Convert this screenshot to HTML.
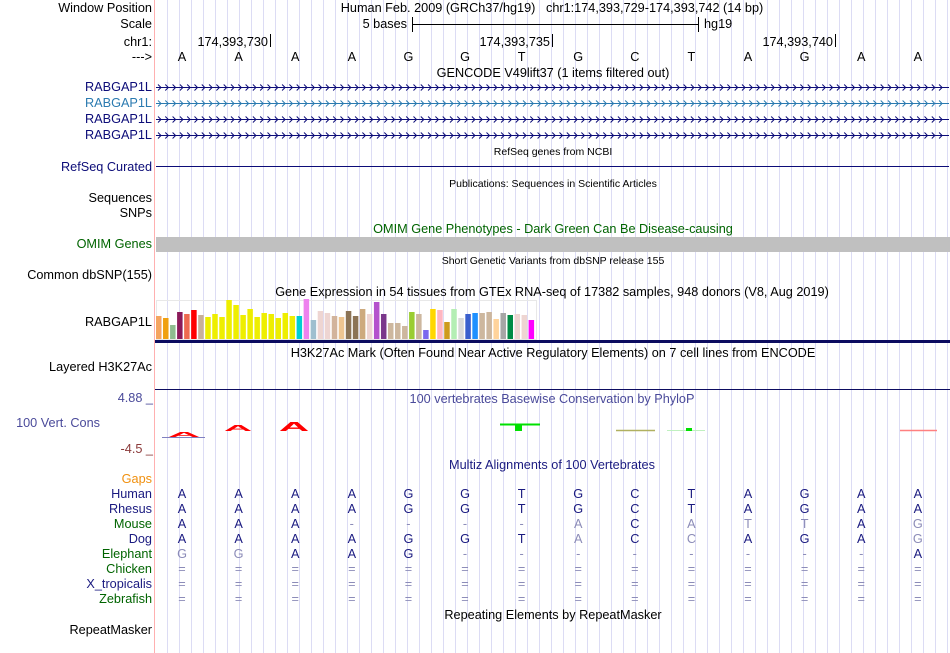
<!DOCTYPE html>
<html><head><meta charset="utf-8"><style>
html,body{margin:0;padding:0;background:#fff;}
svg{display:block;font-family:"Liberation Sans",Arial,sans-serif;}
</style></head><body>
<svg id="s" width="950" height="653" viewBox="0 0 950 653" xmlns="http://www.w3.org/2000/svg">
<g id="grid"></g>
<line x1="154.5" y1="0" x2="154.5" y2="653" stroke="#ffb0b0" stroke-width="1"/>
<g font-size="12.7" fill="#000" text-anchor="end" id="labels">
<text x="152" y="12">Window Position</text>
<text x="152" y="28">Scale</text>
<text x="152" y="46">chr1:</text>
<text x="152" y="61">---&gt;</text>
<text x="152" y="91" fill="#0c0c78">RABGAP1L</text>
<text x="152" y="107" fill="#2a7ab0">RABGAP1L</text>
<text x="152" y="123" fill="#0c0c78">RABGAP1L</text>
<text x="152" y="139" fill="#0c0c78">RABGAP1L</text>
<text x="152" y="171" fill="#0c0c78">RefSeq Curated</text>
<text x="152" y="202">Sequences</text>
<text x="152" y="217">SNPs</text>
<text x="152" y="248" fill="#006400">OMIM Genes</text>
<text x="152" y="279">Common dbSNP(155)</text>
<text x="152" y="326">RABGAP1L</text>
<text x="152" y="371">Layered H3K27Ac</text>
<text x="100" y="427" fill="#4a4a9a">100 Vert. Cons</text>
<text x="153" y="402" fill="#4a4a9a">4.88 _</text>
<text x="153" y="453" fill="#8b3a3a">-4.5 _</text>
<text x="152" y="483" fill="#f0900f">Gaps</text>
<text x="152" y="634">RepeatMasker</text>
</g>
<g font-size="12.7" text-anchor="middle">
<text x="552" y="12" xml:space="preserve" style="white-space:pre">Human Feb. 2009 (GRCh37/hg19)   chr1:174,393,729-174,393,742 (14 bp)</text>
<text x="553" y="77">GENCODE V49lift37 (1 items filtered out)</text>
<text x="553" y="233" fill="#006400">OMIM Gene Phenotypes - Dark Green Can Be Disease-causing</text>
<text x="552" y="296">Gene Expression in 54 tissues from GTEx RNA-seq of 17382 samples, 948 donors (V8, Aug 2019)</text>
<text x="553" y="357">H3K27Ac Mark (Often Found Near Active Regulatory Elements) on 7 cell lines from ENCODE</text>
<text x="552" y="403" fill="#4a4a9a">100 vertebrates Basewise Conservation by PhyloP</text>
<text x="552" y="469" fill="#1a1a80">Multiz Alignments of 100 Vertebrates</text>
<text x="553" y="619">Repeating Elements by RepeatMasker</text>
</g>
<g font-size="10.5" text-anchor="middle">
<text x="553" y="155">RefSeq genes from NCBI</text>
<text x="553" y="187">Publications: Sequences in Scientific Articles</text>
<text x="553" y="264">Short Genetic Variants from dbSNP release 155</text>
</g>
<g font-size="12.7">
<text x="407" y="28" text-anchor="end">5 bases</text>
<line x1="412" y1="24.5" x2="698" y2="24.5" stroke="#000"/>
<line x1="412.5" y1="17" x2="412.5" y2="32" stroke="#000"/>
<line x1="698.5" y1="17" x2="698.5" y2="32" stroke="#000"/>
<text x="704" y="28">hg19</text>
</g>
<g font-size="12.7" text-anchor="end">
<text x="268" y="46">174,393,730</text><line x1="270.5" y1="34" x2="270.5" y2="47" stroke="#000"/>
<text x="550" y="46">174,393,735</text><line x1="552.5" y1="34" x2="552.5" y2="47" stroke="#000"/>
<text x="833" y="46">174,393,740</text><line x1="835.5" y1="34" x2="835.5" y2="47" stroke="#000"/>
</g>
<g id="bases" font-size="12.7" text-anchor="middle"></g>
<g id="genes"></g>
<line x1="156" y1="166.5" x2="949" y2="166.5" stroke="#0c0c78"/>
<rect x="156" y="237" width="794" height="15" fill="#c0c0c0"/>
<rect x="156.5" y="300.5" width="380" height="39" fill="none" stroke="#e8e8e8"/>
<g id="gtex"></g>
<rect x="155" y="340" width="795" height="3" fill="#0c0c60"/>
<line x1="155" y1="389.5" x2="950" y2="389.5" stroke="#0c0c60"/>
<g font-weight="bold" text-anchor="middle">
<text x="0" y="0" fill="#ff0000" font-size="14" transform="translate(184,437) scale(3.2,0.5)">A</text>
<line x1="162" y1="437.5" x2="205" y2="437.5" stroke="#8080c0"/>
<text x="0" y="0" fill="#ff0000" font-size="14" transform="translate(238,431) scale(2.8,0.6)">A</text>
<text x="0" y="0" fill="#ff0000" font-size="14" transform="translate(294,431) scale(3.0,0.9)">A</text>
<line x1="500" y1="424.5" x2="540" y2="424.5" stroke="#00e000" stroke-width="2"/>
<rect x="515" y="424" width="7" height="7" fill="#00e000"/>
<line x1="616" y1="430.5" x2="655" y2="430.5" stroke="#b0b060" stroke-width="1.5"/>
<line x1="667" y1="430.5" x2="705" y2="430.5" stroke="#c0f0c0"/>
<rect x="686" y="428" width="6" height="3" fill="#00e000"/>
<line x1="900" y1="430.5" x2="937" y2="430.5" stroke="#ff8080" stroke-width="1.5"/>
</g>
<g id="multiz" font-size="12.7"></g>
<script>
const gtexValues=[23,21,14,27,25,29,24,22,25,22,39,34,24,30,22,26,25,21,26,23,23,40,19,28,26,23,22,28,23,30,25,37,25,16,16,13,27,25,9,30,29,17,30,21,25,26,26,27,20,26,24,25,24,19];
const gtexColors=["#f4a460","#f0a010","#8fbc8f","#8b1a5a","#ee6a50","#ff0000","#c8b09a","#eeee00","#eeee00","#eeee00","#eeee00","#eeee00","#eeee00","#eeee00","#eeee00","#eeee00","#eeee00","#eeee00","#eeee00","#eeee00","#00ced1","#ee82ee","#9fbfcf","#eed5d2","#eed5d2","#d2b49c","#eec591","#8b7355","#8b7355","#cdaa7d","#eed5d2","#b452cd","#7a378b","#cdb79e","#cdb79e","#cdb79e","#9acd32","#cdb79e","#7b68ee","#ffd700","#ffb6c1","#cd9b1d","#b4eeb4","#d9d9d9","#3a5fcd","#1e90ff","#cdb79e","#cdb79e","#ffd39b","#a6a6a6","#008b45","#eed5d2","#eed5d2","#ff00ff"];
const refBases=["A","A","A","A","G","G","T","G","C","T","A","G","A","A"];
const species=["Human","Rhesus","Mouse","Dog","Elephant","Chicken","X_tropicalis","Zebrafish"];
const speciesColors=["#1a1a80","#1a1a80","#006400","#1a1a80","#006400","#006400","#1a1a80","#006400"];
const alignments=["AAAAGGTGCTAGAA","AAAAGGTGCTAGAA","AAA----ACATTAG","AAAAGGTACCAGAG","GGAAG--------A","==============","==============","=============="];
const NS="http://www.w3.org/2000/svg";
function mk(tag,attrs,parent,txt){const e=document.createElementNS(NS,tag);for(const k in attrs)e.setAttribute(k,attrs[k]);if(txt!==undefined)e.textContent=txt;parent.appendChild(e);return e;}
const baseX=i=>182+56.6*i;
const grid=document.getElementById('grid');
for(let x=167;x<=947;x+=12){const l=mk('line',{x1:x+0.5,y1:0,x2:x+0.5,y2:653,stroke:'#dcdcf4'},grid);

}
const bases=document.getElementById('bases');
refBases.forEach((b,i)=>{const t=mk('text',{x:baseX(i),y:61},bases,b);

});
const genes=document.getElementById('genes');
[[87,'#0c0c78'],[103,'#2a7ab0'],[119,'#0c0c78'],[135,'#0c0c78']].forEach(([y,c],r)=>{
const g=mk('g',{stroke:c,fill:'none'},genes);


mk('line',{x1:156,y1:y+0.5,x2:949,y2:y+0.5},g);
let d='';for(let x=158;x<946;x+=7.3){d+=`M${x.toFixed(1)} ${y-2.5}L${(x+3).toFixed(1)} ${y+0.5}L${x.toFixed(1)} ${y+3.5}`;}
mk('path',{d:d},g);});
const gtex=document.getElementById('gtex');
const yb=v=>339-v;
gtexValues.forEach((v,i)=>{const r=mk('rect',{x:156+i*7.03,y:yb(v),width:5.5,height:v,fill:gtexColors[i]},gtex);

});
const mz=document.getElementById('multiz');
species.forEach((s,r)=>{const y=498+15*r;
const t=mk('text',{x:152,y:y,'text-anchor':'end',fill:speciesColors[r]},mz,s);


const row=mk('g',{'text-anchor':'middle'},mz);


alignments[r].split('').forEach((ch,i)=>{const match=ch===refBases[i];
mk('text',{x:baseX(i),y:y,fill:match?'#1a1a80':'#8c8cb8'},row,ch);});});
</script>
</svg>
</body></html>
